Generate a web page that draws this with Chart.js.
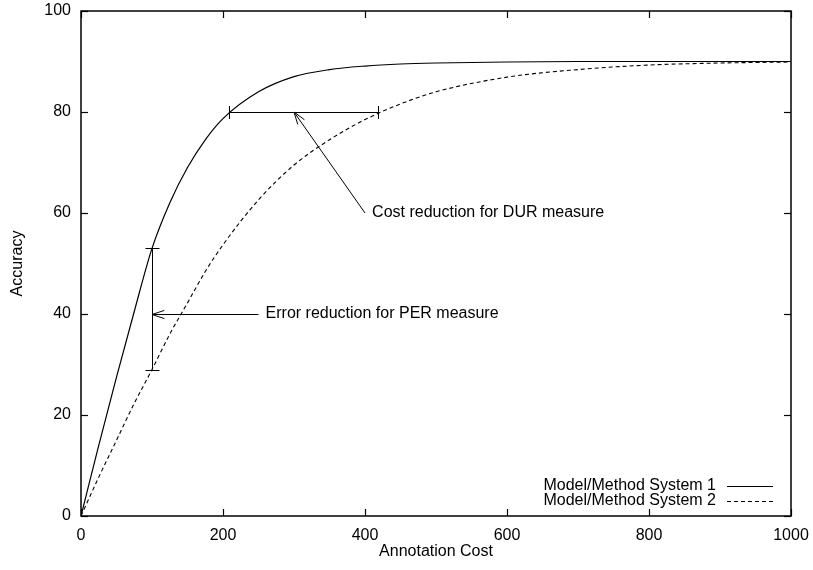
<!DOCTYPE html>
<html>
<head>
<meta charset="utf-8">
<title>Accuracy vs Annotation Cost</title>
<script src="https://cdn.jsdelivr.net/npm/chart.js@4.4.1/dist/chart.umd.min.js"></script>
<style>
  body { margin: 0; background: #fff; }
  #wrap { width: 813px; height: 570px; }
</style>
</head>
<body>
<div id="wrap"><canvas id="myChart" width="813" height="570"></canvas></div>
<script>
'use strict';
var costs = [0, 25, 50, 75, 100, 125, 150, 175, 200, 250, 300, 350, 400, 450, 500, 600, 700, 800, 900, 1000];
var system1 = [0, 14, 27.5, 40.5, 53, 62, 69, 74.5, 78.7, 84, 87, 88.4, 89.1, 89.5, 89.7, 89.9, 90, 90, 90, 90];
var system2 = [0, 7.7, 15, 22.3, 29, 36, 42.2, 48.4, 53.7, 62.6, 69.5, 74.5, 78.5, 81.6, 84, 86.9, 88.4, 89.3, 89.7, 89.9];
var seriesNames = ['Model/Method System 1', 'Model/Method System 2'];

// annotation values, in data units
var perBar = [100, 29, 53];          // x, low, high
var durBar = [80, 209, 418];         // y, left, right
var perArrow = [250, 40, 100, 40];   // from x, y -> to x, y
var durArrow = [400, 60, 300, 80];
var noteTexts = ['Error reduction for PER measure', 'Cost reduction for DUR measure'];
var noteAt = [[260, 40], [410, 60]];

Chart.defaults.font.family = '"Liberation Sans", Arial, sans-serif';
Chart.defaults.font.size = 16;
Chart.defaults.color = '#000';

function toXY(xs, ys) {
  var out = [];
  for (var i = 0; i < xs.length; i++) {
    out.push({ x: xs[i], y: ys[i] });
  }
  return out;
}

function line(ctx, x1, y1, x2, y2) {
  ctx.beginPath();
  ctx.moveTo(x1, y1);
  ctx.lineTo(x2, y2);
  ctx.stroke();
}

function arrow(ctx, x1, y1, x2, y2) {
  line(ctx, x1, y1, x2, y2);
  var ang = Math.atan2(y1 - y2, x1 - x2);
  var len = 13, spread = 0.32;
  line(ctx, x2, y2, x2 + len * Math.cos(ang + spread), y2 + len * Math.sin(ang + spread));
  line(ctx, x2, y2, x2 + len * Math.cos(ang - spread), y2 + len * Math.sin(ang - spread));
}

var extras = {
  id: 'extras',
  afterDraw: function (chart) {
    var ctx = chart.ctx;
    var xs = chart.scales.x;
    var ys = chart.scales.y;
    var a = chart.chartArea;
    ctx.save();
    ctx.strokeStyle = '#000';

    // frame with inward ticks
    ctx.lineWidth = 1.5;
    ctx.strokeRect(a.left, a.top, a.right - a.left, a.bottom - a.top);
    ctx.lineWidth = 1.2;
    xs.ticks.forEach(function (t) {
      var px = Math.round(xs.getPixelForValue(t.value)) + 0.5;
      line(ctx, px, a.bottom, px, a.bottom - 7);
      line(ctx, px, a.top, px, a.top + 7);
    });
    ys.ticks.forEach(function (t) {
      var py = Math.round(ys.getPixelForValue(t.value)) + 0.5;
      line(ctx, a.left, py, a.left + 7, py);
      line(ctx, a.right, py, a.right - 7, py);
    });

    ctx.lineWidth = 1;
    // PER error bar
    var bx = Math.round(xs.getPixelForValue(perBar[0])) + 0.5;
    var lo = ys.getPixelForValue(perBar[1]);
    var hi = ys.getPixelForValue(perBar[2]);
    line(ctx, bx, lo, bx, hi);
    line(ctx, bx - 7, Math.round(lo) + 0.5, bx + 7, Math.round(lo) + 0.5);
    line(ctx, bx - 7, Math.round(hi) + 0.5, bx + 7, Math.round(hi) + 0.5);

    // DUR cost bar
    var by = Math.round(ys.getPixelForValue(durBar[0])) + 0.5;
    var l = Math.round(xs.getPixelForValue(durBar[1])) + 0.5;
    var r = Math.round(xs.getPixelForValue(durBar[2])) + 0.5;
    line(ctx, l, by, r, by);
    line(ctx, l, by - 6.5, l, by + 6.5);
    line(ctx, r, by - 6.5, r, by + 6.5);

    // arrows
    arrow(ctx, xs.getPixelForValue(perArrow[0]), Math.round(ys.getPixelForValue(perArrow[1])) + 0.5,
      xs.getPixelForValue(perArrow[2]), Math.round(ys.getPixelForValue(perArrow[3])) + 0.5);
    arrow(ctx, xs.getPixelForValue(durArrow[0]), ys.getPixelForValue(durArrow[1]),
      xs.getPixelForValue(durArrow[2]), ys.getPixelForValue(durArrow[3]));

    // labels
    ctx.fillStyle = '#000';
    ctx.font = '16px "Liberation Sans", Arial, sans-serif';
    ctx.textAlign = 'left';
    ctx.textBaseline = 'middle';
    for (var i = 0; i < noteTexts.length; i++) {
      ctx.fillText(noteTexts[i], xs.getPixelForValue(noteAt[i][0]), ys.getPixelForValue(noteAt[i][1]));
    }

    // key, bottom right inside the frame
    ctx.textAlign = 'right';
    for (var k = 0; k < seriesNames.length; k++) {
      var ky = a.bottom - 30 + k * 15;
      ctx.fillText(seriesNames[k], a.right - 75, ky);
      ctx.setLineDash(k === 0 ? [] : [4, 3]);
      line(ctx, a.right - 64, Math.round(ky) + 0.5, a.right - 18, Math.round(ky) + 0.5);
    }
    ctx.setLineDash([]);
    ctx.restore();
  }
};

var ctx = document.getElementById('myChart').getContext('2d');
var accuracyChart = new Chart(ctx, {
  type: 'line',
  data: {
    datasets: [{
      label: seriesNames[0],
      data: toXY(costs, system1),
      borderColor: '#000',
      borderWidth: 1.2,
      pointRadius: 0,
      fill: false,
      cubicInterpolationMode: 'monotone'
    }, {
      label: seriesNames[1],
      data: toXY(costs, system2),
      borderColor: '#000',
      borderWidth: 1.1,
      borderDash: [4, 3],
      pointRadius: 0,
      fill: false,
      cubicInterpolationMode: 'monotone'
    }]
  },
  options: {
    responsive: false,
    animation: false,
    layout: { padding: { top: 11, right: 22, left: 0, bottom: 0 } },
    plugins: {
      legend: { display: false },
      tooltip: { enabled: false }
    },
    scales: {
      x: {
        type: 'linear',
        min: 0,
        max: 1000,
        ticks: {
          stepSize: 200,
          padding: 10,
          maxRotation: 0,
          callback: function (v) { return String(v); }
        },
        grid: { display: false, drawTicks: false },
        border: { display: false },
        title: { display: true, text: 'Annotation Cost', padding: { top: 0, bottom: 9 } },
        afterFit: function (s) {
          s.height = 54;
          s.paddingLeft = 0;
          s.paddingRight = 0;
        }
      },
      y: {
        min: 0,
        max: 100,
        ticks: { stepSize: 20, padding: 10 },
        grid: { display: false, drawTicks: false },
        border: { display: false },
        title: { display: true, text: 'Accuracy', padding: { top: 8, bottom: 0 } },
        afterFit: function (s) {
          s.width = 81;
          s.paddingTop = 0;
          s.paddingBottom = 0;
        }
      }
    }
  },
  plugins: [extras]
});
</script>
</body>
</html>
